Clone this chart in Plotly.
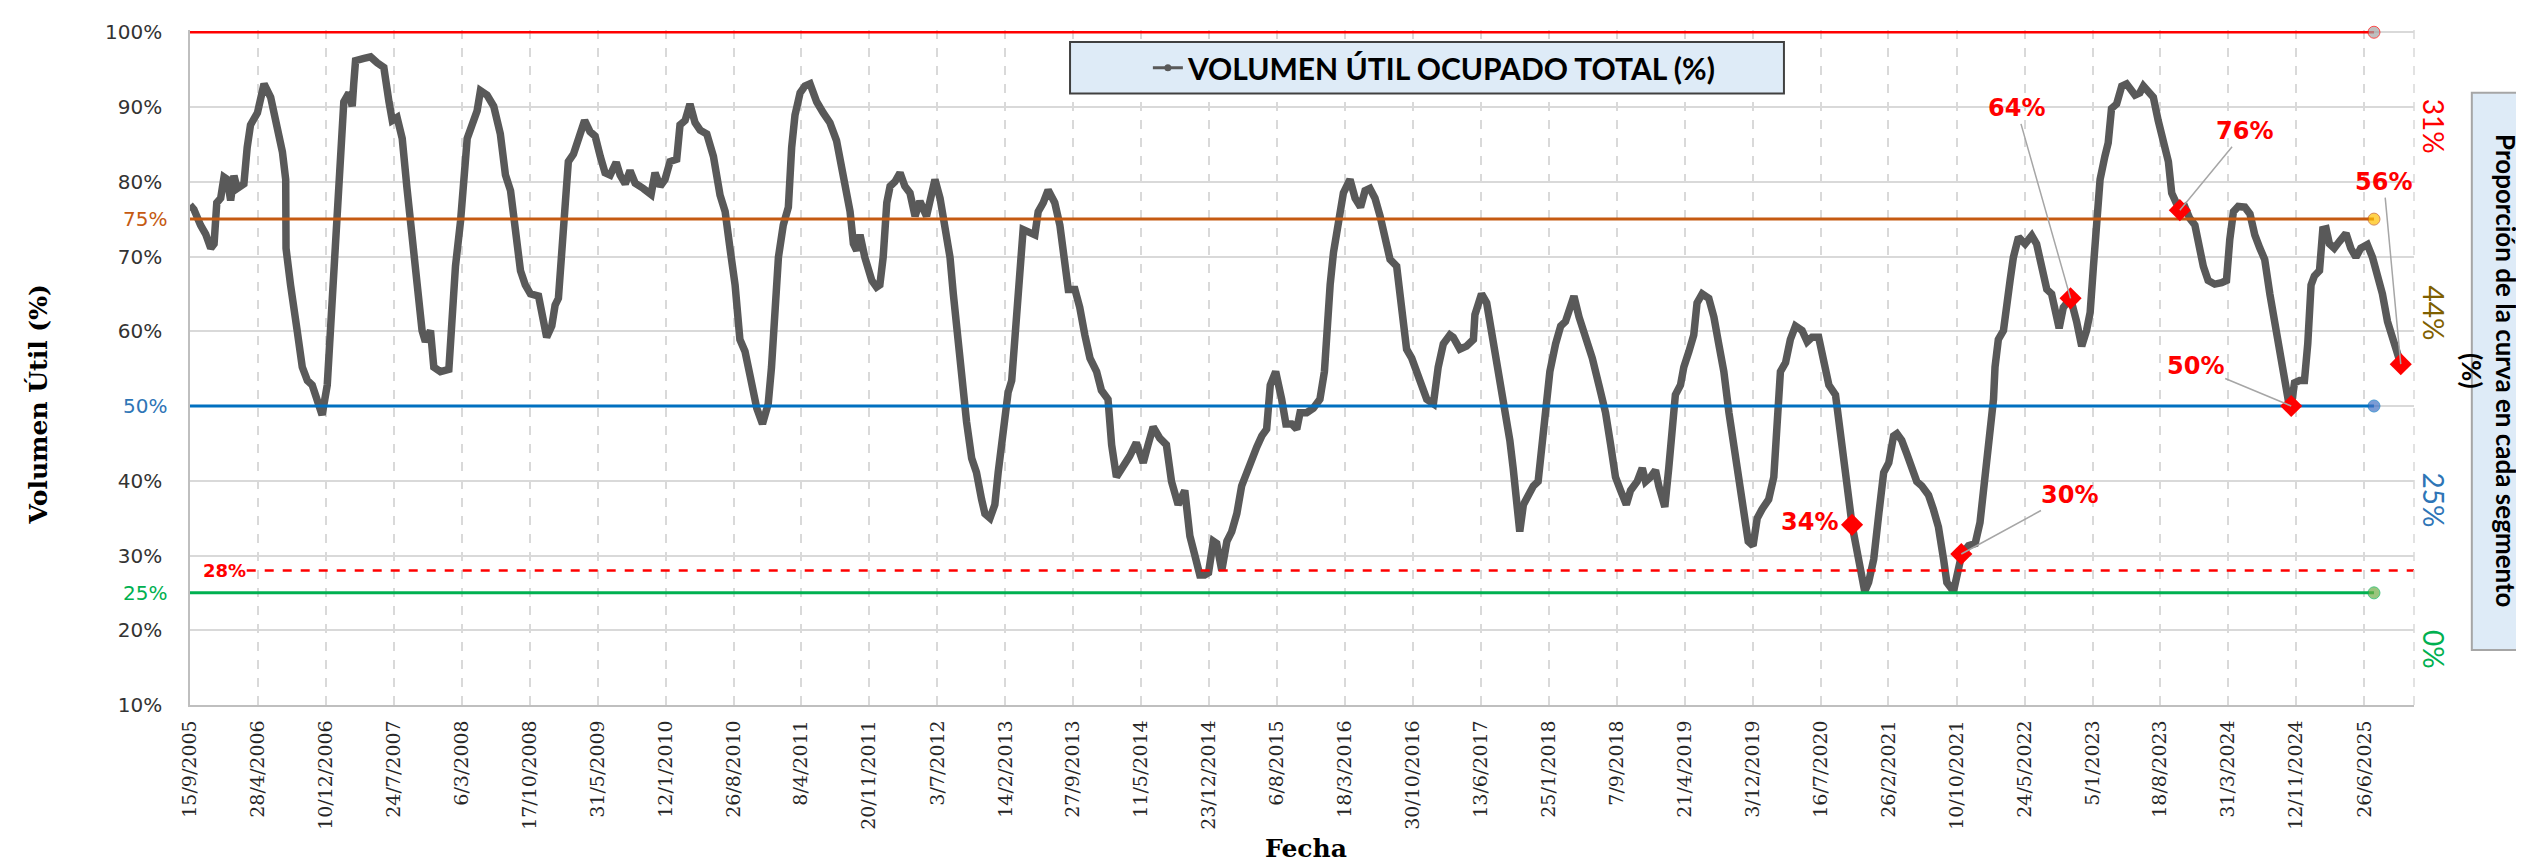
import plotly.graph_objects as go

# ---------------- DATA ----------------
fechas = [
    "2005-09-15","2005-09-28","2005-10-20","2005-11-06","2005-11-23","2005-12-04","2005-12-13","2005-12-26",
    "2006-01-06","2006-01-17","2006-01-28","2006-02-08","2006-02-19","2006-03-13","2006-03-24","2006-04-04",
    "2006-04-27","2006-05-19","2006-06-10","2006-07-02","2006-07-19","2006-07-30","2006-07-31","2006-08-15",
    "2006-08-26","2006-09-06","2006-09-23","2006-10-10","2006-10-26","2006-11-12","2006-11-28","2006-12-15",
    "2006-12-26","2007-01-06","2007-01-17","2007-01-28","2007-02-08","2007-02-25","2007-03-08","2007-03-13",
    "2007-03-19","2007-04-16","2007-05-08","2007-05-30","2007-06-21","2007-07-08","2007-07-19","2007-08-04",
    "2007-08-21","2007-09-06","2007-09-18","2007-09-29","2007-10-10","2007-10-26","2007-11-06","2007-11-23",
    "2007-12-04","2007-12-26","2008-01-23","2008-02-03","2008-02-14","2008-03-02","2008-03-13","2008-03-24",
    "2008-04-09","2008-04-26","2008-05-07","2008-05-29","2008-06-20","2008-07-12","2008-07-29","2008-08-15",
    "2008-08-31","2008-09-17","2008-10-03","2008-10-20",
    "2008-11-16","2008-12-02","2008-12-13","2008-12-30","2009-01-10","2009-01-21","2009-02-01","2009-02-12",
    "2009-02-23","2009-03-12","2009-03-23","2009-04-03","2009-04-18","2009-05-06","2009-05-23","2009-06-09",
    "2009-06-25","2009-07-12","2009-08-01","2009-08-14","2009-08-31","2009-09-16","2009-10-03","2009-10-30",
    "2009-11-25","2009-12-08","2009-12-25","2010-01-10","2010-01-27","2010-02-18","2010-03-01","2010-03-18",
    "2010-04-03","2010-04-20","2010-05-07","2010-05-29","2010-06-20","2010-07-12","2010-07-29","2010-08-14",
    "2010-08-31","2010-09-16","2010-10-03","2010-10-20","2010-11-11","2010-11-30","2010-12-19","2010-12-30",
    "2011-01-11","2011-01-22","2011-02-07","2011-02-24","2011-03-07","2011-03-18","2011-04-04","2011-04-20",
    "2011-05-07","2011-05-29","2011-06-20","2011-07-12","2011-08-03","2011-08-25","2011-09-17","2011-09-28",
    "2011-10-09","2011-10-20","2011-11-05",
    "2011-11-28","2011-12-14","2011-12-25","2012-01-05","2012-01-17","2012-01-28","2012-02-13","2012-03-01",
    "2012-03-17","2012-04-03","2012-04-20","2012-05-06","2012-05-28","2012-06-11","2012-06-25","2012-07-12",
    "2012-07-28","2012-08-14","2012-08-25","2012-09-05","2012-09-22","2012-10-08","2012-10-25","2012-11-10",
    "2012-11-27","2012-12-08","2012-12-25","2013-01-10","2013-01-21","2013-02-07","2013-02-23","2013-03-07",
    "2013-03-18","2013-03-29","2013-04-14","2013-05-01","2013-05-23","2013-06-03","2013-06-20","2013-07-06",
    "2013-07-28","2013-08-14","2013-08-31","2013-09-11","2013-10-03","2013-10-19","2013-11-05","2013-11-22",
    "2013-12-14","2013-12-30","2014-01-21","2014-02-02","2014-02-18","2014-03-12","2014-04-03","2014-04-25",
    "2014-05-18","2014-06-03","2014-06-20","2014-07-12","2014-08-03","2014-08-20","2014-09-11","2014-10-03",
    "2014-10-20","2014-11-05","2014-11-22","2014-12-08",
    "2014-12-21","2015-01-06","2015-01-17","2015-02-03","2015-02-20","2015-03-08","2015-03-25","2015-04-10",
    "2015-04-27","2015-05-14","2015-05-30","2015-06-16","2015-07-02","2015-07-14","2015-08-01","2015-08-21",
    "2015-09-04","2015-09-23","2015-10-10","2015-10-21","2015-11-12","2015-12-04","2015-12-26","2016-01-10",
    "2016-01-18","2016-01-29","2016-02-09","2016-02-25","2016-03-13","2016-04-04","2016-04-21","2016-05-09",
    "2016-05-24","2016-06-09","2016-06-26","2016-07-13","2016-07-29","2016-08-15","2016-09-06","2016-09-23",
    "2016-10-09","2016-10-26","2016-11-11","2016-11-28","2016-12-15","2017-01-06","2017-01-22","2017-02-08",
    "2017-03-02","2017-03-13","2017-04-04","2017-04-26","2017-05-19","2017-05-24","2017-06-15","2017-07-02",
    "2017-07-18","2017-08-04","2017-08-21","2017-09-06","2017-09-17","2017-09-28","2017-10-09","2017-10-20",
    "2017-11-01","2017-11-17","2017-12-04","2017-12-20","2017-12-31","2018-01-11","2018-01-28",
    "2018-02-16","2018-03-05","2018-03-21","2018-04-07","2018-04-18","2018-05-05","2018-05-27","2018-06-18",
    "2018-07-10","2018-08-01","2018-08-18","2018-09-03","2018-09-20","2018-10-09","2018-10-23","2018-11-14",
    "2018-12-01","2018-12-12","2018-12-29","2019-01-14","2019-01-25","2019-02-14","2019-02-27","2019-03-10",
    "2019-03-21","2019-04-07","2019-04-18","2019-05-05","2019-05-21","2019-06-01","2019-06-18","2019-07-10",
    "2019-07-27","2019-08-12","2019-08-29","2019-09-15","2019-10-01","2019-10-18","2019-11-03","2019-11-18",
    "2019-12-04","2019-12-18","2020-01-03","2020-01-25","2020-02-11","2020-02-22","2020-03-04","2020-03-21",
    "2020-04-06","2020-04-23","2020-05-15","2020-06-01","2020-06-17","2020-07-09","2020-07-26","2020-08-12",
    "2020-09-03","2020-09-19","2020-10-06","2020-10-28","2020-11-14","2020-11-30","2020-12-09","2020-12-22",
    "2021-01-08","2021-01-25","2021-02-10","2021-02-27",
    "2021-03-15","2021-03-26","2021-04-11","2021-04-28","2021-05-14","2021-05-31","2021-06-17","2021-07-09",
    "2021-07-25","2021-08-11","2021-08-28","2021-09-08","2021-09-30","2021-10-16","2021-10-27","2021-11-19",
    "2021-12-11","2021-12-27","2022-01-07","2022-01-18","2022-01-30","2022-02-10","2022-02-15","2022-02-26",
    "2022-03-15","2022-03-26","2022-04-06","2022-04-17","2022-05-04","2022-05-26","2022-06-17","2022-07-03",
    "2022-07-20","2022-08-06","2022-08-22","2022-09-08","2022-09-16","2022-09-30","2022-10-24","2022-11-13",
    "2022-11-30","2022-12-16","2022-12-28","2023-01-08","2023-01-19","2023-01-30","2023-02-15","2023-02-26",
    "2023-03-09","2023-03-26","2023-04-12","2023-04-28","2023-05-26","2023-06-11","2023-06-23","2023-07-09",
    "2023-07-26","2023-08-11","2023-08-28","2023-09-14","2023-09-25","2023-10-11","2023-10-22","2023-11-08",
    "2023-11-24","2023-12-11","2023-12-22","2024-01-08","2024-01-24","2024-02-15","2024-03-09","2024-03-25",
    "2024-04-05","2024-04-17",
    "2024-05-03","2024-05-25","2024-06-11","2024-06-27","2024-07-14","2024-07-30","2024-08-16","2024-09-01",
    "2024-09-18","2024-10-04","2024-10-17","2024-10-26","2024-11-06","2024-11-23","2024-12-09","2024-12-20",
    "2024-12-31","2025-01-11","2025-01-28","2025-02-08","2025-02-19","2025-03-02","2025-03-18","2025-04-04",
    "2025-04-26","2025-05-12","2025-05-29","2025-06-14","2025-07-06","2025-07-23","2025-08-09","2025-08-25",
    "2025-09-11","2025-09-27","2025-10-14","2025-10-25",
]
volumen = [
    76.9,76.3,74.2,73.0,71.1,71.7,77.2,77.8,
    80.6,80.3,77.5,80.8,79.1,79.7,84.6,87.6,
    89.2,93.1,91.3,87.6,84.0,80.3,71.1,66.2,
    62.5,60.1,55.2,53.4,52.8,50.9,48.8,52.8,
    60.1,68.7,76.0,84.6,90.7,91.9,90.1,93.1,
    96.2,96.5,96.7,95.9,95.3,90.7,88.2,88.6,
    85.8,79.1,74.8,69.9,65.0,60.1,58.6,60.1,
    55.2,54.6,54.9,63.8,68.7,74.8,80.3,85.8,
    87.6,89.5,92.2,91.6,90.1,86.4,80.9,78.8,
    73.6,68.1,66.2,65.0,
    64.7,61.3,59.2,60.7,63.5,64.4,69.9,77.2,
    82.7,83.7,85.2,87.0,88.2,86.7,86.1,83.4,
    81.2,80.9,82.6,80.9,79.7,81.5,79.8,79.1,
    78.3,81.2,79.4,80.3,82.7,83.0,87.6,88.2,
    90.4,87.9,86.9,86.4,83.4,78.2,76.0,71.1,
    66.2,58.9,57.3,54.0,49.7,47.6,50.3,55.2,
    63.8,69.9,74.2,76.6,84.6,88.9,91.9,92.8,
    93.1,90.7,89.2,87.9,85.5,80.3,76.0,71.7,
    70.8,72.9,69.9,
    66.8,65.9,66.2,69.9,77.2,79.4,80.0,81.2,
    79.4,78.5,75.4,77.4,75.4,78.5,80.3,77.8,
    73.6,69.9,65.0,60.1,55.2,47.9,43.0,41.1,
    37.5,35.6,35.0,36.8,41.1,47.9,51.8,53.4,
    60.1,66.2,73.6,73.3,72.9,76.0,77.2,78.9,
    77.2,74.2,69.9,65.6,65.6,63.2,59.5,56.4,
    54.6,52.1,50.9,44.8,40.5,41.7,43.3,45.1,
    42.4,44.8,47.2,45.7,44.8,39.9,36.8,38.7,
    32.6,30.1,27.4,27.4,
    27.7,31.9,31.6,28.0,31.9,33.2,35.6,39.3,
    41.1,43.3,44.5,46.0,46.9,52.8,54.6,50.9,
    47.6,47.6,46.9,49.1,49.1,49.7,50.9,54.6,
    60.1,66.2,70.5,74.2,78.5,80.3,77.8,76.6,
    78.8,79.1,77.8,75.4,72.3,69.6,68.7,63.8,
    57.6,56.4,54.6,52.1,50.9,50.3,55.2,58.3,
    59.5,59.2,57.6,58.0,58.9,62.2,65.0,63.8,
    60.1,55.8,52.1,49.1,45.4,41.7,38.1,33.2,
    36.8,38.1,39.3,39.9,44.2,50.3,54.6,
    58.3,60.7,61.3,63.8,64.7,61.9,59.5,56.4,
    52.8,49.1,44.8,40.5,38.7,36.8,38.7,39.9,
    41.7,39.9,40.5,41.4,39.3,36.5,41.7,46.6,
    51.5,52.8,55.2,57.3,59.5,63.8,65.0,64.4,
    61.9,58.3,54.6,49.1,44.8,39.9,35.0,31.9,
    31.3,35.0,36.2,37.5,40.5,47.9,54.6,55.8,
    58.9,60.7,60.1,58.6,59.2,59.2,56.4,52.8,
    51.5,47.2,41.1,34.1,30.1,26.4,25.2,26.4,
    29.5,35.6,41.1,42.4,
    46.0,46.3,45.4,43.6,41.7,39.9,39.3,38.1,
    36.2,33.8,29.5,26.4,25.2,28.3,30.1,31.3,
    31.6,34.4,38.7,41.7,46.0,50.9,55.2,58.9,
    60.1,64.4,66.8,69.9,72.6,71.7,72.8,71.7,
    68.1,65.6,65.0,61.9,60.4,63.2,64.4,61.3,
    58.0,60.1,62.5,68.7,75.4,80.3,83.4,85.2,
    89.8,90.4,92.8,93.1,91.6,91.9,92.8,91.9,
    91.3,88.2,85.2,82.7,78.5,77.2,76.1,76.6,
    75.1,74.2,71.7,68.7,66.8,66.3,66.5,66.8,
    72.3,76.0,
    76.7,76.6,75.7,72.9,71.1,69.6,65.0,61.3,
    57.6,54.0,50.6,50.0,53.1,53.4,53.4,58.3,
    66.2,67.4,68.1,73.6,73.7,71.7,71.1,72.0,
    73.1,71.1,69.9,71.1,71.6,69.9,67.4,65.0,
    61.3,58.9,56.4,55.6,
]

tick_fechas = [
    "2005-09-15","2006-04-28","2006-12-10","2007-07-24","2008-03-06","2008-10-17","2009-05-31",
    "2010-01-12","2010-08-26","2011-04-08","2011-11-20","2012-07-03","2013-02-14","2013-09-27",
    "2014-05-11","2014-12-23","2015-08-06","2016-03-18","2016-10-30","2017-06-13","2018-01-25",
    "2018-09-07","2019-04-21","2019-12-03","2020-07-16","2021-02-26","2021-10-10","2022-05-24",
    "2023-01-05","2023-08-18","2024-03-31","2024-11-12","2025-06-26",
]
tick_texto = [
    "15/9/2005","28/4/2006","10/12/2006","24/7/2007","6/3/2008","17/10/2008","31/5/2009",
    "12/1/2010","26/8/2010","8/4/2011","20/11/2011","3/7/2012","14/2/2013","27/9/2013",
    "11/5/2014","23/12/2014","6/8/2015","18/3/2016","30/10/2016","13/6/2017","25/1/2018",
    "7/9/2018","21/4/2019","3/12/2019","16/7/2020","26/2/2021","10/10/2021","24/5/2022",
    "5/1/2023","18/8/2023","31/3/2024","12/11/2024","26/6/2025",
]
y_ticks = [10, 20, 30, 40, 50, 60, 70, 80, 90, 100]

# threshold lines
umbrales = [100, 75, 50, 25]
umbral_inicio = "2005-09-15"
umbral_fin = "2025-07-28"
umbral_critico = 28

# yearly markers
marc_fechas = ["2020-10-28", "2021-10-26", "2022-10-24", "2023-10-22", "2024-10-26", "2025-10-25"]
marc_valores = [34.1, 30.2, 64.4, 76.2, 50.0, 55.6]

# proportion of curve in each segment
limites_segmento = [100, 75, 50, 25, 10]
proporciones = [31, 44, 25, 0]

x_inicio = "2005-09-15"
x_fin = "2025-12-08"

# ---------------- STYLE ----------------
col_umbral = ["#FF0000", "#C55A11", "#0070C0", "#00B050"]
col_punto = ["#A5A5A5", "#FFC000", "#4472C4", "#70AD47"]
col_prop = ["#FF0000", "#7F6000", "#2E75B6", "#00B050"]
col_lbl_izq = {75: "#C55A11", 50: "#2E75B6", 25: "#00B050"}
offs = [None, (108, -59), (-54, -190), (65, -79), (-96, -40), (-17, -182)]

fig = go.Figure()

fig.add_trace(go.Scatter(
    x=fechas, y=volumen, mode="lines",
    line=dict(color="#595959", width=7.5),
    showlegend=False, hoverinfo="skip"))

fig.add_trace(go.Scatter(
    x=[None], y=[None], mode="lines+markers",
    line=dict(color="#595959", width=3), marker=dict(size=7, color="#595959"),
    name="<b>VOLUMEN ÚTIL OCUPADO TOTAL (%)</b>", showlegend=True))

for u, cl, cp in zip(umbrales, col_umbral, col_punto):
    fig.add_trace(go.Scatter(
        x=[umbral_inicio, umbral_fin], y=[u, u], mode="lines+markers",
        line=dict(color=cl, width=2.5 if u == 100 else 3),
        marker=dict(size=[0, 12], color=cp),
        cliponaxis=False, showlegend=False, hoverinfo="skip"))

fig.add_trace(go.Scatter(
    x=marc_fechas, y=marc_valores, mode="markers",
    marker=dict(symbol="diamond", size=17, color="#FF0000"),
    cliponaxis=False, showlegend=False, hoverinfo="skip"))

lbl_font = dict(family="DejaVu Sans", size=24, color="#FF0000")
annotations = []
for i, (fx, v) in enumerate(zip(marc_fechas, marc_valores)):
    txt = "<b>%d%%</b>" % round(v)
    if offs[i] is None:
        annotations.append(dict(x=fx, y=v, text=txt, showarrow=False, xanchor="right",
                                xshift=-12, yshift=3, font=lbl_font))
    else:
        ax, ay = offs[i]
        annotations.append(dict(x=fx, y=v, text=txt, showarrow=True, arrowhead=0,
                                arrowwidth=1.5, arrowcolor="#A6A6A6", ax=ax, ay=ay,
                                font=lbl_font))

annotations.append(dict(xref="paper", x=0.005, y=umbral_critico, text="<b>%d%%</b>" % umbral_critico,
                        showarrow=False, xanchor="left", yanchor="middle",
                        font=dict(family="DejaVu Sans", size=18, color="#FF0000")))

for u in (75, 50, 25):
    annotations.append(dict(xref="paper", x=0, y=u, text="%d%%" % u, showarrow=False,
                            xanchor="right", yanchor="middle", xshift=-21,
                            font=dict(family="DejaVu Sans", size=20, color=col_lbl_izq[u])))

for k, p in enumerate(proporciones):
    ymid = (limites_segmento[k] + limites_segmento[k + 1]) / 2
    annotations.append(dict(xref="paper", x=1.009, y=ymid, text="%d%%" % p, showarrow=False,
                            xanchor="center", yanchor="middle", textangle=90,
                            font=dict(family="Lato", size=28, color=col_prop[k])))

annotations.append(dict(xref="paper", yref="paper", x=1.0494, y=0.495,
                        xanchor="right", yanchor="middle",
                        text="<b>Proporción de la curva en cada segmento</b><br><b>(%)</b>",
                        showarrow=False, textangle=90,
                        font=dict(family="Lato", size=26, color="black")))
annotations.append(dict(xref="paper", yref="paper", x=-0.068, y=0.445,
                        xanchor="center", yanchor="middle",
                        text="<b>Volumen Útil (%)</b>", showarrow=False, textangle=-90,
                        font=dict(family="DejaVu Serif", size=25, color="black")))
annotations.append(dict(xref="paper", yref="paper", x=0.502, y=-0.2125,
                        xanchor="center", yanchor="middle",
                        text="<b>Fecha</b>", showarrow=False,
                        font=dict(family="DejaVu Serif", size=25, color="black")))

shapes = [
    dict(type="line", xref="paper", x0=0.0255, x1=1, yref="y", y0=umbral_critico, y1=umbral_critico,
         line=dict(color="#FF0000", width=2.5, dash="dash")),
    dict(type="line", xref="paper", x0=1, x1=1, yref="paper", y0=0, y1=1,
         line=dict(color="#D9D9D9", width=1.5, dash="dash")),
    dict(type="rect", xref="paper", yref="paper", x0=0.3957, x1=0.7167, y0=0.9059, y1=0.9822,
         fillcolor="#DEEBF7", line=dict(color="#404040", width=2), layer="above"),
    dict(type="rect", xref="paper", yref="paper", x0=1.026, x1=1.0525, y0=0.0815, y1=0.907,
         fillcolor="#DEEBF7", line=dict(color="#A6A6A6", width=2), layer="above"),
]

fig.update_layout(
    width=2524, height=861,
    margin=dict(l=182, r=118, t=20, b=164),
    paper_bgcolor="white", plot_bgcolor="white",
    showlegend=True,
    legend=dict(x=0.4307, y=0.944, xanchor="left", yanchor="middle",
                bgcolor="rgba(0,0,0,0)", borderwidth=0,
                font=dict(family="Lato", size=30, color="black")),
    annotations=annotations,
    shapes=shapes,
    xaxis=dict(
        type="date", range=[x_inicio, x_fin],
        tickmode="array", tickvals=tick_fechas, ticktext=tick_texto,
        tickangle=-90, ticks="", ticklabelstandoff=6,
        tickfont=dict(family="DejaVu Serif", size=19, color="#262626"),
        showgrid=True, gridcolor="#D9D9D9", gridwidth=1.5, griddash="dash",
        showline=True, linecolor="#BFBFBF", linewidth=1.5, zeroline=False),
    yaxis=dict(
        range=[10, 100.3], tickmode="array", tickvals=y_ticks,
        ticktext=["" if v in col_lbl_izq else "%d%%" % v for v in y_ticks],
        ticks="", ticklabelstandoff=22,
        tickfont=dict(family="DejaVu Sans", size=20, color="#333333"),
        showgrid=True, gridcolor="#D9D9D9", gridwidth=1.5,
        showline=True, linecolor="#BFBFBF", linewidth=1.5, zeroline=False),
)

fig.write_html("out.html")
